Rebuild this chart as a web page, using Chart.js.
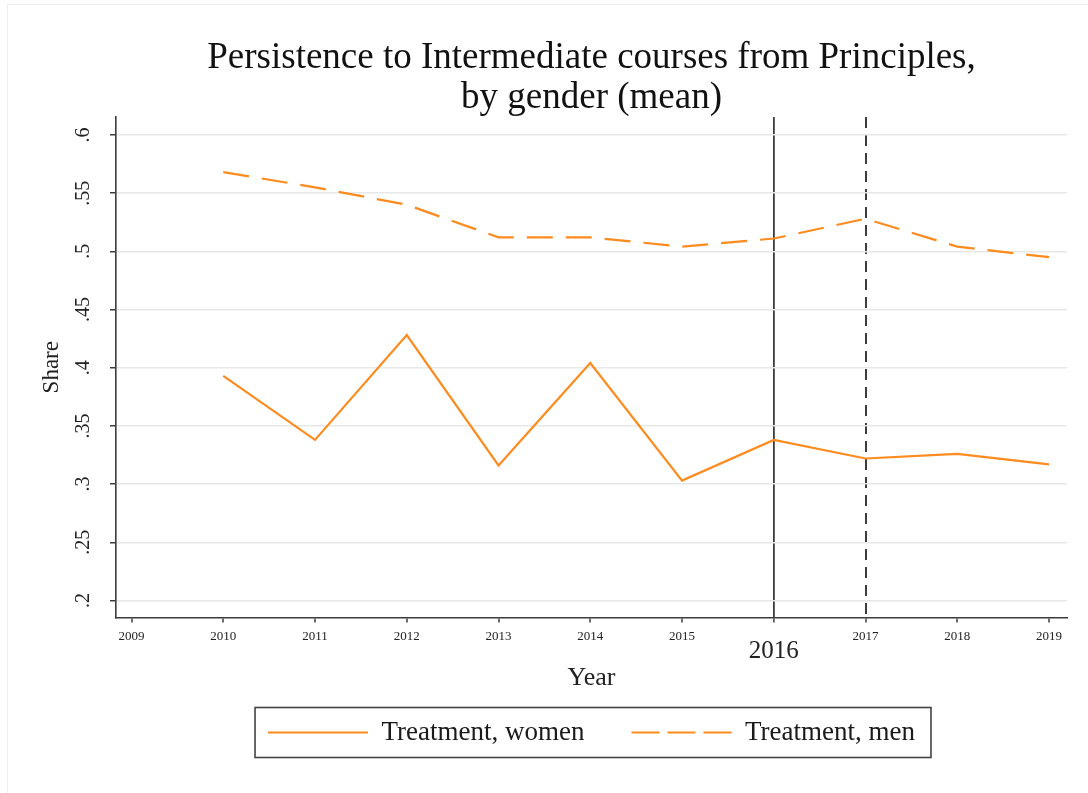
<!DOCTYPE html>
<html lang="en">
<head>
<meta charset="UTF-8">
<title>Persistence to Intermediate courses</title>
<script src="https://cdn.jsdelivr.net/npm/chart.js"></script>
<style>
  body { margin: 0; padding: 0; background: #fff; overflow: hidden; }
  .frame { position: relative; width: 1088px; height: 793px; }
  .edge { position: absolute; left: 7px; top: 4px; right: 0; bottom: 0;
          border-left: 1px solid #eeeeee; border-top: 1px solid #eeeeee; pointer-events: none; }
</style>
</head>
<body>
<div class="frame">
  <canvas id="chart"></canvas>
  <div class="edge"></div>
</div>
<script>
// data
const years = [2010, 2011, 2012, 2013, 2014, 2015, 2016, 2017, 2018, 2019];
const women = [0.393, 0.338, 0.428, 0.316, 0.404, 0.303, 0.338, 0.322, 0.326, 0.317];
const men   = [0.568, 0.555, 0.540, 0.512, 0.512, 0.504, 0.511, 0.528, 0.504, 0.495];

const xTicks = [2009, 2010, 2011, 2012, 2013, 2014, 2015, 2016, 2017, 2018, 2019];
const yTicks = [0.2, 0.25, 0.3, 0.35, 0.4, 0.45, 0.5, 0.55, 0.6];
const yTickLabels = ['.2', '.25', '.3', '.35', '.4', '.45', '.5', '.55', '.6'];
const treatYear = 2016;   // solid line, labelled below the axis
const laterYear = 2017;   // dashed line

const serif = "'Liberation Serif', 'Times New Roman', serif";
const orange = '#fd8b1e';
const axisGray = '#3c3c3c';

// box around the legend
const legendFrame = {
    id: 'legendFrame',
    afterDraw(chart) {
        const lg = chart.legend;
        if (!lg || !lg.legendHitBoxes.length) return;
        const boxes = lg.legendHitBoxes;
        const l = Math.min(...boxes.map(b => b.left)) - 13;
        const r = Math.max(...boxes.map(b => b.left + b.width)) + 16;
        const t = boxes[0].top - 11.5;
        const b = boxes[0].top + boxes[0].height + 11.5;
        const ctx = chart.ctx;
        ctx.save();
        ctx.strokeStyle = '#444';
        ctx.lineWidth = 1.6;
        ctx.strokeRect(l, t, r - l, b - t);
        ctx.restore();
    }
};

new Chart(document.getElementById('chart'), {
    type: 'line',
    data: {
        datasets: [
            {
                label: 'Treatment, women',
                data: years.map((y, i) => ({ x: y, y: women[i] })),
                borderColor: orange,
                backgroundColor: orange,
                borderWidth: 2.2,
                pointRadius: 0,
                tension: 0
            },
            {
                label: 'Treatment, men',
                data: years.map((y, i) => ({ x: y, y: men[i] })),
                borderColor: orange,
                backgroundColor: orange,
                borderWidth: 2.2,
                borderDash: [26, 13],
                pointRadius: 0,
                tension: 0
            }
        ]
    },
    options: {
        responsive: true,
        maintainAspectRatio: false,
        animation: false,
        layout: { padding: { left: 8, right: 21, top: 0, bottom: 37 } },
        plugins: {
            title: {
                display: true,
                fullSize: false,
                text: ['Persistence to Intermediate courses from Principles,', 'by gender (mean)'],
                color: '#111',
                font: { family: serif, size: 37, weight: 'normal', lineHeight: 1.08 },
                padding: { top: 38, bottom: -1 }
            },
            legend: {
                position: 'bottom',
                fullSize: false,
                labels: {
                    usePointStyle: true,
                    pointStyle: 'line',
                    pointStyleWidth: 100,
                    boxWidth: 100,
                    padding: 47,
                    color: '#1a1a1a',
                    font: { family: serif, size: 27 },
                    generateLabels(chart) {
                        const items = Chart.defaults.plugins.legend.labels.generateLabels(chart);
                        items.forEach(it => {
                            const ds = chart.data.datasets[it.datasetIndex];
                            it.strokeStyle = ds.borderColor;
                            it.lineWidth = ds.borderWidth;
                            it.lineDash = ds.borderDash ? [28, 8] : [];
                        });
                        return items;
                    }
                }
            },
            tooltip: { enabled: false }
        },
        scales: {
            x: {
                type: 'linear',
                position: 'bottom',
                weight: 1,
                min: 2008.831,
                max: 2019.196,
                afterBuildTicks: s => { s.ticks = xTicks.map(v => ({ value: v })); },
                afterFit: s => { s.height = 23.5; },
                ticks: {
                    autoSkip: false,
                    maxRotation: 0,
                    padding: 9.45,
                    color: '#222',
                    font: { family: serif, size: 13, lineHeight: 0.7 },
                    callback: v => (v === treatYear ? '' : String(v))
                },
                grid: {
                    drawOnChartArea: true,
                    color: c => (c.tick && (c.tick.value === treatYear || c.tick.value === laterYear)) ? axisGray : 'rgba(0,0,0,0)',
                    lineWidth: c => (c.tick && c.tick.value === treatYear) ? 1.8 : 2,
                    tickColor: axisGray,
                    tickLength: 5,
                    tickWidth: 1.5
                },
                border: {
                    display: true,
                    color: axisGray,
                    width: 1.6,
                    dash: c => (c.tick && c.tick.value === laterYear) ? [11, 7] : []
                }
            },
            x2: {
                type: 'linear',
                position: 'bottom',
                weight: 2,
                min: 2008.831,
                max: 2019.196,
                afterBuildTicks: s => { s.ticks = [{ value: treatYear }]; },
                afterFit: s => { s.height = 31; },
                ticks: {
                    autoSkip: false,
                    maxRotation: 0,
                    padding: 0,
                    color: '#222',
                    font: { family: serif, size: 25, lineHeight: 0.8 },
                    callback: v => String(v)
                },
                grid: { display: false, drawTicks: false, drawOnChartArea: false, tickLength: 0 },
                border: { display: false },
                title: {
                    display: true,
                    text: 'Year',
                    color: '#222',
                    font: { family: serif, size: 26 },
                    padding: { top: 0, bottom: -21.6 }
                }
            },
            y: {
                type: 'linear',
                min: 0.18538,
                max: 0.61548,
                afterBuildTicks: s => { s.ticks = yTicks.map(v => ({ value: v })); },
                afterFit: s => { s.width = 108; },
                ticks: {
                    autoSkip: false,
                    minRotation: 90,
                    maxRotation: 90,
                    crossAlign: 'center',
                    padding: 14,
                    color: '#222',
                    font: { family: serif, size: 20 },
                    callback: v => yTickLabels[yTicks.findIndex(t => Math.abs(t - v) < 1e-9)]
                },
                grid: {
                    color: '#e8e8e8',
                    lineWidth: 1.5,
                    tickColor: axisGray,
                    tickLength: 6,
                    tickWidth: 1.5
                },
                border: { display: true, color: axisGray, width: 1.6 },
                title: {
                    display: true,
                    text: 'Share',
                    color: '#222',
                    font: { family: serif, size: 23 },
                    padding: { top: 30, bottom: 0 }
                }
            }
        }
    },
    plugins: [legendFrame]
});
</script>
</body>
</html>
